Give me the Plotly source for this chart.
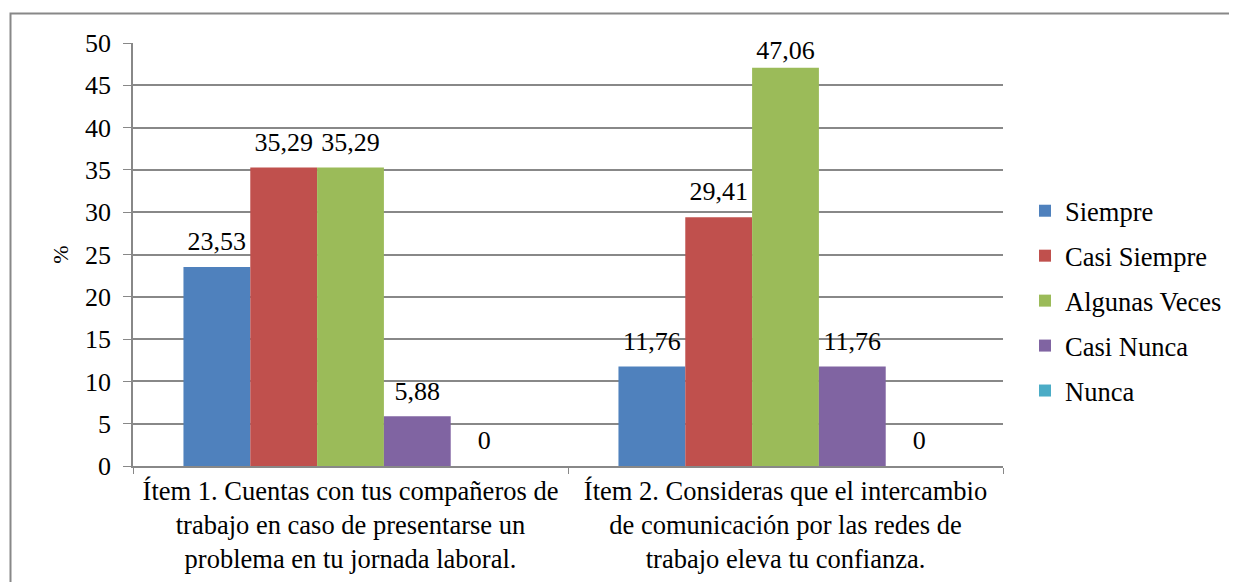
import plotly.graph_objects as go

categories = [
    "Ítem 1. Cuentas con tus compañeros de<br>trabajo en caso de presentarse un<br>problema en tu jornada laboral.",
    "Ítem 2. Consideras que el intercambio<br>de comunicación por las redes de<br>trabajo eleva tu confianza.",
]
series_names = ["Siempre", "Casi Siempre", "Algunas Veces", "Casi Nunca", "Nunca"]
siempre = [23.53, 11.76]
casi_siempre = [35.29, 29.41]
algunas_veces = [35.29, 47.06]
casi_nunca = [5.88, 11.76]
nunca = [0, 0]
colors = ["#4F81BD", "#C0504D", "#9BBB59", "#8064A2", "#4BACC6"]

FONT = "'Liberation Serif', 'Times New Roman', serif"
FS = 26
OFF = 8  # page offset
W, H = 1237 - OFF, 582 - OFF
L, R, T, B = 133 - OFF, 1003 - OFF, 43 - OFF, 466 - OFF
YMAX = 50


def fmt(v):
    s = f"{v:.2f}".replace(".", ",") if v != int(v) else str(int(v))
    s = f"<span style='font-size:{FS}px'>{s}</span>"
    # labels near the top of the axis sit closer to the bar (as in the source)
    return s if v > 0.9 * YMAX else s + "<br>&nbsp;"


fig = go.Figure()
for name, vals, col in zip(series_names, [siempre, casi_siempre, algunas_veces, casi_nunca, nunca], colors):
    fig.add_trace(go.Bar(
        x=categories, y=vals, name=name, marker_color=col,
        marker_line_width=0,
        text=[fmt(v) for v in vals],
        textposition="outside", cliponaxis=False,
        textfont=dict(family=FONT, size=9, color="black"),
        legendgroup=name,
    ))

pw, ph = R - L, B - T
def px(x): return (x - OFF - L) / pw
def py(y): return (B - (y - OFF)) / ph

fig.update_layout(
    width=W, height=H,
    margin=dict(l=L, r=W - R, t=T, b=H - B, autoexpand=False),
    paper_bgcolor="white", plot_bgcolor="white",
    barmode="group", bargap=0.232, bargroupgap=0,
    font=dict(family=FONT, size=FS, color="black"),
    showlegend=True,
    legend=dict(x=px(1025), y=py(301), xanchor="left", yanchor="middle",
                font=dict(family=FONT, size=26.5, color="black"),
                tracegroupgap=7.5, itemwidth=30, bgcolor="rgba(0,0,0,0)"),
    xaxis=dict(showline=True, linecolor="#888888", linewidth=1.5, automargin=False,
               ticks="outside", tickson="boundaries", ticklen=6, tickcolor="#888888",
               tickfont=dict(family=FONT, size=26.5, color="black")),
    yaxis=dict(range=[0, YMAX], dtick=5, showgrid=True, gridcolor="#888888", gridwidth=1.5,
               showline=True, linecolor="#888888", linewidth=1.5, automargin=False,
               ticks="outside", ticklen=8, tickcolor="#888888", ticklabelstandoff=7,
               tickfont=dict(family=FONT, size=FS, color="black"),
               title=dict(text="%", font=dict(family=FONT, size=22), standoff=10),
               zeroline=False),
    shapes=[dict(type="rect", xref="paper", yref="paper",
                 x0=px(10.5), x1=px(1300), y0=py(700), y1=py(13.5),
                 line=dict(color="#888888", width=2), fillcolor="rgba(0,0,0,0)", layer="below")],
)

fig.write_html("out.html")
